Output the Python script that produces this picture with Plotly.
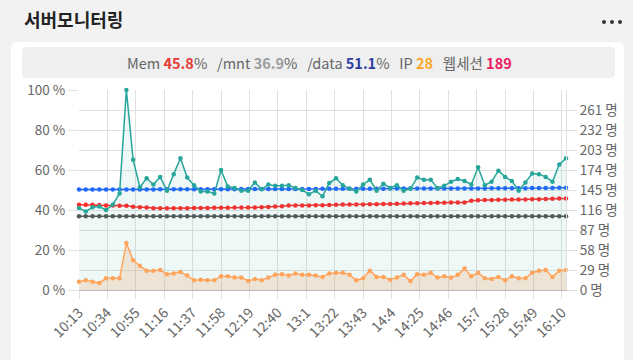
import plotly.graph_objects as go

# ---------------- data ----------------
x_tick_labels = ["10:13", "10:34", "10:55", "11:16", "11:37", "11:58", "12:19", "12:40", "13:1",
                 "13:22", "13:43", "14:4", "14:25", "14:46", "15:7", "15:28", "15:49", "16:10"]
tick_minutes = list(range(0, 358, 21))          # minutes after 10:13 for each tick label
sample_minutes = list(range(0, 361, 5))         # one sample every 5 minutes (73 samples)

web_sessions = [119, 114, 120, 121, 116, 124, 140, 290, 189, 149,
                162, 153, 164, 144, 168, 191, 163, 152, 143, 143,
                140, 174, 150, 148, 144, 144, 156, 146, 153, 151,
                151, 152, 148, 145, 139, 144, 136, 155, 162, 152,
                147, 143, 153, 160, 144, 154, 148, 152, 144, 147,
                163, 160, 160, 148, 151, 157, 161, 158, 153, 178,
                152, 157, 173, 164, 158, 144, 156, 169, 168, 164,
                157, 182, 191]

ip_count = [12, 14, 12, 10, 17, 17, 17, 68, 43, 35,
            28, 28, 29, 23, 24, 26, 21, 14, 15, 14,
            14, 20, 20, 18, 18, 13, 16, 14, 18, 22,
            23, 21, 24, 22, 22, 21, 19, 24, 25, 25,
            22, 14, 17, 28, 19, 19, 15, 18, 22, 13,
            23, 22, 25, 18, 20, 18, 22, 31, 20, 25,
            17, 16, 19, 14, 20, 17, 17, 25, 28, 29,
            19, 28, 29]

mem_pct = [42.6, 42.6, 42.6, 42.5, 42.3, 42.2, 42.1, 42.1, 41.6, 41.4,
           41.2, 40.9, 40.9, 40.9, 40.9, 40.9, 40.9, 41.0, 41.0, 41.0,
           41.1, 41.1, 41.1, 41.2, 41.2, 41.2, 41.3, 41.4, 41.5, 41.7,
           41.9, 42.2, 42.2, 42.3, 42.3, 42.4, 42.4, 42.5, 42.6, 42.7,
           42.7, 42.8, 42.8, 42.9, 42.9, 43.0, 43.0, 43.1, 43.3, 43.4,
           43.4, 43.5, 43.5, 43.6, 43.6, 43.7, 43.7, 43.8, 44.6, 44.9,
           45.0, 45.0, 45.1, 45.1, 45.2, 45.3, 45.3, 45.4, 45.4, 45.5,
           45.6, 45.7, 45.8]

data_pct = [50.3, 50.3, 50.3, 50.3, 50.3, 50.3, 50.3, 50.3, 50.3, 50.3,
            50.3, 50.3, 50.4, 50.4, 50.4, 50.4, 50.4, 50.4, 50.4, 50.4,
            50.4, 50.4, 50.4, 50.4, 50.5, 50.5, 50.5, 50.5, 50.5, 50.5,
            50.5, 50.5, 50.5, 50.5, 50.5, 50.5, 50.6, 50.6, 50.6, 50.6,
            50.6, 50.6, 50.6, 50.6, 50.6, 50.6, 50.7, 50.7, 50.7, 50.7,
            50.7, 50.7, 50.7, 50.7, 50.8, 50.8, 50.8, 50.8, 50.8, 50.8,
            50.8, 50.9, 50.9, 50.9, 50.9, 50.9, 50.9, 51.0, 51.0, 51.0,
            51.0, 51.1, 51.1]

mnt_pct = [36.9, 36.9, 36.9, 36.9, 36.9, 36.9, 36.9, 36.9, 36.9, 36.9,
           36.9, 36.9, 36.9, 36.9, 36.9, 36.9, 36.9, 36.9, 36.9, 36.9,
           36.9, 36.9, 36.9, 36.9, 36.9, 36.9, 36.9, 36.9, 36.9, 36.9,
           36.9, 36.9, 36.9, 36.9, 36.9, 36.9, 36.9, 36.9, 36.9, 36.9,
           36.9, 36.9, 36.9, 36.9, 36.9, 36.9, 36.9, 36.9, 36.9, 36.9,
           36.9, 36.9, 36.9, 36.9, 36.9, 36.9, 36.9, 36.9, 36.9, 36.9,
           36.9, 36.9, 36.9, 36.9, 36.9, 36.9, 36.9, 36.9, 36.9, 36.9,
           36.9, 36.9, 36.9]

pct_ticks = [0, 20, 40, 60, 80, 100]
pct_tick_labels = ["0 %", "20 %", "40 %", "60 %", "80 %", "100 %"]
people_ticks = [0, 29, 58, 87, 116, 145, 174, 203, 232, 261]
people_tick_labels = ["0 명", "29 명", "58 명", "87 명", "116 명", "145 명", "174 명", "203 명", "232 명", "261 명"]

header_values = {"mem": "45.8", "mnt": "36.9", "data": "51.1", "ip": "28", "web": "189"}

# ---------------- layout helpers ----------------
W, H = 633, 360
ML, MR, MT, MB = 79, 67, 90, 70
PW, PH = W - ML - MR, H - MT - MB
FONT = "Noto Sans CJK KR, Noto Sans, sans-serif"


def px(X, Y):
    return (X - ML) / PW, (H - MB - Y) / PH


def rounded_rect(x0, y0, x1, y1, r):
    def P(X, Y):
        a, b = px(X, Y)
        return f"{a:.5f},{b:.5f}"
    return (f"M {P(x0 + r, y0)} L {P(x1 - r, y0)} Q {P(x1, y0)} {P(x1, y0 + r)} "
            f"L {P(x1, y1 - r)} Q {P(x1, y1)} {P(x1 - r, y1)} "
            f"L {P(x0 + r, y1)} Q {P(x0, y1)} {P(x0, y1 - r)} "
            f"L {P(x0, y0 + r)} Q {P(x0, y0)} {P(x0 + r, y0)} Z")


fig = go.Figure()

TEAL = "#26a69a"
ORANGE = "#ffa45c"

fig.add_trace(go.Scatter(x=sample_minutes, y=web_sessions, yaxis="y2", mode="lines+markers",
                         line=dict(color=TEAL, width=1.5), marker=dict(size=4.5, color=TEAL),
                         fill="tozeroy", fillcolor="rgba(38,166,154,0.08)", cliponaxis=False,
                         name="웹세션"))
fig.add_trace(go.Scatter(x=sample_minutes, y=ip_count, yaxis="y2", mode="lines+markers",
                         line=dict(color=ORANGE, width=1.5), marker=dict(size=4.5, color=ORANGE),
                         fill="tozeroy", fillcolor="rgba(235,160,95,0.22)", cliponaxis=False,
                         name="IP"))
fig.add_trace(go.Scatter(x=sample_minutes, y=mnt_pct, mode="lines+markers",
                         line=dict(color="#555555", width=1.5), marker=dict(size=4.5, color="#555555"),
                         cliponaxis=False, name="/mnt"))
fig.add_trace(go.Scatter(x=sample_minutes, y=mem_pct, mode="lines+markers",
                         line=dict(color="#ff2b2b", width=1.5), marker=dict(size=4.5, color="#ff2b2b"),
                         cliponaxis=False, name="Mem"))
fig.add_trace(go.Scatter(x=sample_minutes, y=data_pct, mode="lines+markers",
                         line=dict(color="#1f66ff", width=1.5), marker=dict(size=4.5, color="#1f66ff"),
                         cliponaxis=False, name="/data"))

GRID = "#e0e0e0"
tickfont = dict(family=FONT, size=13.5, color="#666666")
xtickfont = dict(family=FONT, size=14, color="#666666")

fig.update_layout(
    width=W, height=H,
    margin=dict(l=ML, r=MR, t=MT, b=MB, pad=0),
    paper_bgcolor="#f2f2f2",
    plot_bgcolor="rgba(0,0,0,0)",
    showlegend=False,
    font=dict(family=FONT),
    xaxis=dict(range=[sample_minutes[0], sample_minutes[-1]], tickmode="array",
               tickvals=tick_minutes, ticktext=x_tick_labels, tickangle=-45,
               tickfont=xtickfont, showgrid=True, gridcolor=GRID, gridwidth=1,
               ticks="outside", ticklen=8, tickcolor=GRID,
               showline=True, linecolor="#b8b8b8", linewidth=1, zeroline=False),
    yaxis=dict(range=[0, 100], tickmode="array", tickvals=pct_ticks, ticktext=pct_tick_labels,
               tickfont=tickfont, showgrid=True, gridcolor="#d8d8d8", gridwidth=1,
               ticks="outside", ticklen=10, tickcolor=GRID, zeroline=False, showline=False),
    yaxis2=dict(range=[0, 290], overlaying="y", side="right", tickmode="array",
                tickvals=people_ticks, ticktext=people_tick_labels, tickfont=tickfont,
                showgrid=True, gridcolor=GRID, gridwidth=1, ticks="outside", ticklen=10,
                tickcolor=GRID, zeroline=False, showline=True, linecolor=GRID, linewidth=1),
)

# card and header box
fig.add_shape(type="path", xref="paper", yref="paper", path=rounded_rect(11, 42, 624, 372, 7),
              fillcolor="#ffffff", line=dict(width=0), layer="below")
fig.add_shape(type="path", xref="paper", yref="paper", path=rounded_rect(22, 47, 615, 78, 5),
              fillcolor="#efefef", line=dict(width=0), layer="below")

# "more" menu dots
for cx in (604, 612, 620):
    x0, y0 = px(cx - 2, 20)
    x1, y1 = px(cx + 2, 24)
    fig.add_shape(type="circle", xref="paper", yref="paper", x0=x0, y0=y0, x1=x1, y1=y1,
                  fillcolor="#333333", line=dict(width=0))

# title
tx, ty = px(22, 19)
fig.add_annotation(xref="paper", yref="paper", x=tx, y=ty, xanchor="left", yanchor="middle",
                   text="<b>서버모니터링</b>", showarrow=False,
                   font=dict(family=FONT, size=18, color="#222222"))

sp = "\u00a0\u00a0\u00a0"
header = (f"Mem <b><span style='color:#e53935'>{header_values['mem']}</span></b>%{sp}"
          f"/mnt <b><span style='color:#9e9e9e'>{header_values['mnt']}</span></b>%{sp}"
          f"/data <b><span style='color:#303f9f'>{header_values['data']}</span></b>%{sp}"
          f"IP <b><span style='color:#ffa726'>{header_values['ip']}</span></b>{sp}"
          f"웹세션 <b><span style='color:#e91e63'>{header_values['web']}</span></b>")
hx, hy = px(319, 62)
fig.add_annotation(xref="paper", yref="paper", x=hx, y=hy, xanchor="center", yanchor="middle",
                   text=header, showarrow=False,
                   font=dict(family=FONT, size=14.5, color="#666666"))

fig.write_html("out.html", config={"displayModeBar": False},
               post_script="document.body.style.margin='0';")
